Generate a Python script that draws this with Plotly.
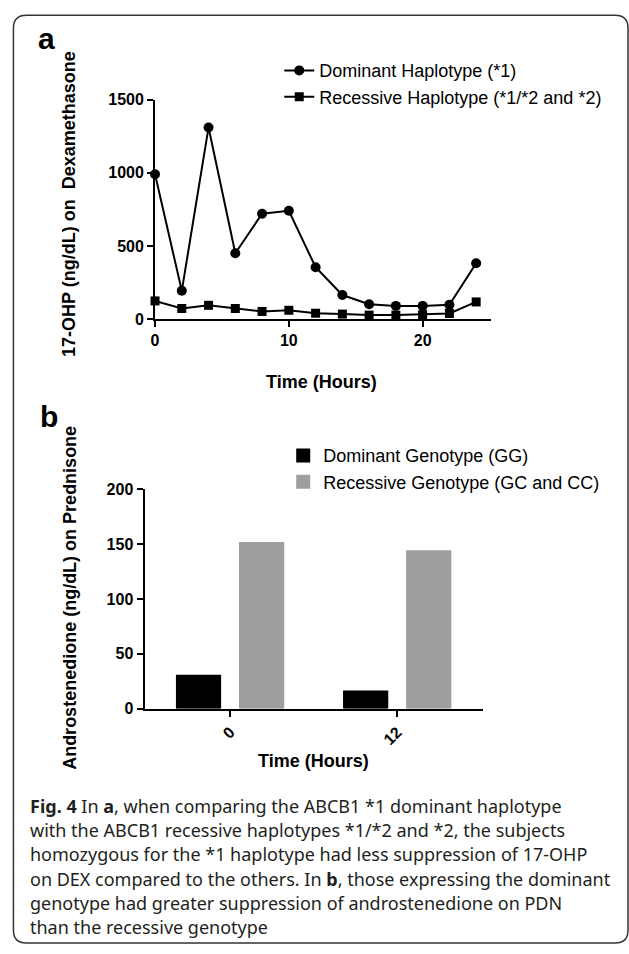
import plotly.graph_objects as go

W, H = 629, 954

# ---- Panel a data ----
hours_a = [0, 2, 4, 6, 8, 10, 12, 14, 16, 18, 20, 22, 24]
dominant_haplotype = [990, 193, 1310, 450, 720, 740, 354, 164, 101, 90, 90, 97, 381]
recessive_haplotype = [124, 72, 94, 72, 52, 60, 40, 34, 27, 27, 30, 38, 117]

# ---- Panel b data ----
hours_b = ["0", "12"]
dominant_genotype = [30, 15.5]
recessive_genotype = [151, 143.5]

caption_lines = [
    "<b>Fig. 4</b> In <b>a</b>, when comparing the ABCB1 *1 dominant haplotype",
    "with the ABCB1 recessive haplotypes *1/*2 and *2, the subjects",
    "homozygous for the *1 haplotype had less suppression of 17-OHP",
    "on DEX compared to the others. In <b>b</b>, those expressing the dominant",
    "genotype had greater suppression of androstenedione on PDN",
    "than the recessive genotype",
]


def X(px):
    return px / W


def Y(py):
    return 1 - py / H


SANS = "Liberation Sans, Arial, sans-serif"

fig = go.Figure()

fig.add_trace(go.Scatter(
    x=hours_a, y=dominant_haplotype, mode="lines+markers",
    name="Dominant Haplotype (*1)",
    line=dict(color="black", width=2),
    marker=dict(symbol="circle", size=10, color="black"),
    xaxis="x", yaxis="y", legend="legend", cliponaxis=False))
fig.add_trace(go.Scatter(
    x=hours_a, y=recessive_haplotype, mode="lines+markers",
    name="Recessive Haplotype (*1/*2 and *2)",
    line=dict(color="black", width=2),
    marker=dict(symbol="square", size=9, color="black"),
    xaxis="x", yaxis="y", legend="legend", cliponaxis=False))

fig.add_trace(go.Bar(
    x=hours_b, y=dominant_genotype, name="Dominant Genotype (GG)",
    marker=dict(color="black", line=dict(color="black", width=2)),
    xaxis="x2", yaxis="y2", legend="legend2"))
fig.add_trace(go.Bar(
    x=hours_b, y=recessive_genotype, name="Recessive Genotype (GC and CC)",
    marker=dict(color="#9e9e9e", line=dict(color="#9e9e9e", width=2)),
    xaxis="x2", yaxis="y2", legend="legend2"))

axis_common = dict(
    showline=True, linecolor="black", linewidth=2,
    ticks="outside", ticklen=6, tickwidth=2, tickcolor="black",
    showgrid=False, zeroline=False,
    tickfont=dict(family=SANS, size=16, color="black", weight="bold"),
)

fig.update_layout(
    width=W, height=H,
    margin=dict(l=0, r=0, t=0, b=0),
    paper_bgcolor="white", plot_bgcolor="white",
    font=dict(family=SANS, color="black"),
    showlegend=True,
    barmode="group", bargap=0.245, bargroupgap=0.315,
    xaxis=dict(domain=[X(152), X(490)], range=[0, 25.1], anchor="y",
               tick0=0, dtick=10, **axis_common),
    yaxis=dict(domain=[Y(316.7), Y(93.3)], range=[0, 1500], anchor="x",
               tick0=0, dtick=500, **axis_common),
    xaxis2=dict(domain=[X(141.4), X(482)], range=[-0.512, 1.513], anchor="y2",
                type="category", tickangle=-45, **axis_common),
    yaxis2=dict(domain=[Y(713.3), Y(490)], range=[0, 200], anchor="x2",
                tick0=0, dtick=50, **axis_common),
    legend=dict(x=X(277), y=Y(45), xanchor="left", yanchor="top",
                font=dict(family=SANS, size=18, color="black"),
                bgcolor="rgba(0,0,0,0)", itemwidth=30, tracegroupgap=0),
    legend2=dict(x=X(281), y=Y(437), xanchor="left", yanchor="top",
                 font=dict(family=SANS, size=18, color="black"),
                 bgcolor="rgba(0,0,0,0)", itemwidth=30, tracegroupgap=0),
)

annotations = [
    dict(text="<b>a</b>", x=X(43), y=Y(31.3), font=dict(family=SANS, size=30)),
    dict(text="<b>b</b>", x=X(45), y=Y(416.3), font=dict(family=SANS, size=30)),
    dict(text="<b>17-OHP (ng/dL) on  Dexamethasone</b>", x=X(66), y=Y(200),
         textangle=-90, font=dict(family=SANS, size=18)),
    dict(text="<b>Time (Hours)</b>", x=X(320), y=Y(381), font=dict(family=SANS, size=18)),
    dict(text="<b>Androstenedione (ng/dL) on Prednisone</b>", x=X(67), y=Y(601),
         textangle=-90, font=dict(family=SANS, size=18)),
    dict(text="<b>Time (Hours)</b>", x=X(311.5), y=Y(767), font=dict(family=SANS, size=18)),
]
for a in annotations:
    a.update(xref="paper", yref="paper", showarrow=False, xanchor="center", yanchor="middle")
    a["font"]["color"] = "black"

line_y0, line_dy = 812, 24.8
for i, t in enumerate(caption_lines):
    annotations.append(dict(
        text=t, x=X(24), y=Y(line_y0 + i * line_dy), xref="paper", yref="paper",
        showarrow=False, xanchor="left", yanchor="middle",
        font=dict(family="Noto Sans, Open Sans, sans-serif", size=18, color="#231f20")))
fig.update_layout(annotations=annotations)

# rounded frame around the figure
x0, y0, x1, y1, r = 9.5, 7.5, 628, 952, 13
path = (f"M {X(x0 + r)},{Y(y0)} L {X(x1 - r)},{Y(y0)} "
        f"Q {X(x1)},{Y(y0)} {X(x1)},{Y(y0 + r)} L {X(x1)},{Y(y1 - r)} "
        f"Q {X(x1)},{Y(y1)} {X(x1 - r)},{Y(y1)} L {X(x0 + r)},{Y(y1)} "
        f"Q {X(x0)},{Y(y1)} {X(x0)},{Y(y1 - r)} L {X(x0)},{Y(y0 + r)} "
        f"Q {X(x0)},{Y(y0)} {X(x0 + r)},{Y(y0)} Z")
fig.add_shape(type="path", path=path, xref="paper", yref="paper",
              line=dict(color="#333333", width=1.5), layer="above")

fig.write_html(
    "out.html",
    config={"displayModeBar": False},
    post_script="document.body.style.margin='0';document.body.style.overflow='hidden';",
)
